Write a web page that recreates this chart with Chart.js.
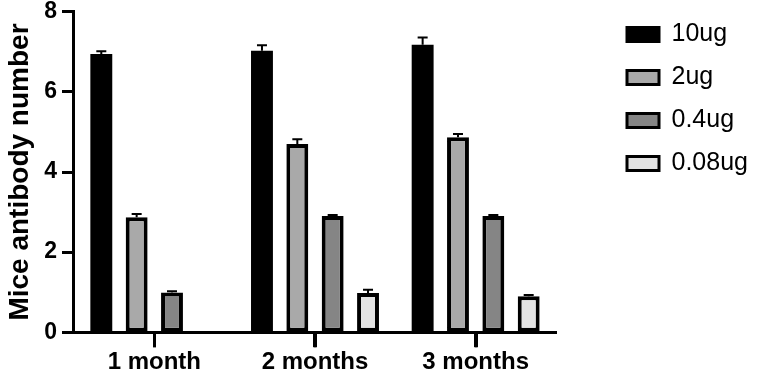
<!DOCTYPE html>
<html>
<head>
<meta charset="utf-8">
<script src="https://cdn.jsdelivr.net/npm/chart.js@4"></script>
<style>
  html, body { margin: 0; padding: 0; background: #fff; }
  #wrap { width: 762px; height: 377px; }
</style>
</head>
<body>
<div id="wrap"><canvas id="miceChart"></canvas></div>
<script>
const months = ['1 month', '2 months', '3 months'];
const doseLabels = ['10ug', '2ug', '0.4ug', '0.08ug'];

// mean values per dose
const ug10 = [6.95, 7.03, 7.18];
const ug2 = [2.87, 4.70, 4.87];
const ug04 = [0.99, 2.90, 2.90];
const ug008 = [0.02, 0.98, 0.90];

// upper error (SEM)
const ug10Err = [0.07, 0.14, 0.18];
const ug2Err = [0.08, 0.12, 0.08];
const ug04Err = [0.03, 0.03, 0.03];
const ug008Err = [0.0, 0.08, 0.03];

const fills = ['#000000', '#a9a9a9', '#858585', '#e3e3e3'];

const FONT = "'Liberation Sans', Arial, sans-serif";

// where the plot should end and the legend boxes begin
const PLOT_RIGHT = 556;
const LEGEND_X = 627;
const LEGEND_TOP = 4;
const X_TICK = 15;

const errorBars = {
  id: 'errorBars',
  afterDatasetsDraw(chart) {
    const ctx = chart.ctx;
    const yScale = chart.scales.y;
    chart.data.datasets.forEach((ds, i) => {
      const meta = chart.getDatasetMeta(i);
      meta.data.forEach((bar, j) => {
        const err = ds.errors[j];
        if (!err) return;
        const top = yScale.getPixelForValue(ds.data[j] + err);
        ctx.save();
        ctx.strokeStyle = '#000';
        ctx.lineWidth = 2;
        ctx.beginPath();
        ctx.moveTo(bar.x, bar.y);
        ctx.lineTo(bar.x, top);
        ctx.moveTo(bar.x - 5, top);
        ctx.lineTo(bar.x + 5, top);
        ctx.stroke();
        ctx.restore();
      });
    });
  },
  // category tick marks under the x axis
  afterDraw(chart) {
    const xScale = chart.scales.x;
    const ctx = chart.ctx;
    ctx.save();
    ctx.strokeStyle = '#000';
    ctx.lineWidth = 3;
    ctx.beginPath();
    xScale.ticks.forEach((t, i) => {
      const x = Math.round(xScale.getPixelForTick(i)) + 0.5;
      ctx.moveTo(x, xScale.top);
      ctx.lineTo(x, xScale.top + X_TICK);
    });
    ctx.stroke();
    ctx.restore();
  }
};

// keep the legend away from the plot like in the original figure
const legendPlace = {
  id: 'legendPlace',
  beforeLayout(chart) {
    const lg = chart.legend;
    if (lg && !lg._fixed) {
      const fit = lg.fit;
      lg.fit = function () {
        fit.call(this);
        this.width = chart.width - PLOT_RIGHT;
      };
      lg._fixed = true;
    }
  },
  afterLayout(chart) {
    const lg = chart.legend;
    const dx = LEGEND_X - (lg.left + lg.options.labels.padding);
    lg.left += dx;
    lg.right += dx;
    lg.top = LEGEND_TOP;
  }
};

const seriesValues = [ug10, ug2, ug04, ug008];
const seriesErrors = [ug10Err, ug2Err, ug04Err, ug008Err];

const dataMice = {
  labels: months,
  datasets: doseLabels.map((lbl, i) => ({
    label: lbl,
    data: seriesValues[i],
    errors: seriesErrors[i],
    backgroundColor: fills[i],
    borderColor: '#000',
    borderWidth: i === 0 ? 0 : 4,
    borderSkipped: false,
    categoryPercentage: 0.88,
    barPercentage: 0.62
  }))
};

const configMice = {
  type: 'bar',
  data: dataMice,
  options: {
    responsive: true,
    maintainAspectRatio: false,
    animation: false,
    layout: { padding: { top: 0, right: 0, bottom: 0, left: 0 } },
    plugins: {
      legend: {
        position: 'right',
        align: 'start',
        labels: {
          boxWidth: 32,
          boxHeight: 14,
          padding: 18,
          color: '#000',
          font: { family: FONT, size: 25 },
          generateLabels(chart) {
            const items = Chart.defaults.plugins.legend.labels.generateLabels(chart);
            items.forEach(it => { it.lineWidth = 3; it.strokeStyle = '#000'; });
            return items;
          }
        }
      },
      tooltip: { enabled: false }
    },
    scales: {
      x: {
        grid: {
          offset: false,
          drawOnChartArea: false,
          drawTicks: true,
          tickLength: X_TICK,
          tickWidth: 3,
          tickColor: '#000'
        },
        border: { color: '#000', width: 3 },
        ticks: {
          color: '#000',
          padding: 6.5,
          font: { family: FONT, size: 24, weight: 'bold', lineHeight: 0.7 }
        }
      },
      y: {
        min: 0,
        max: 8,
        ticks: {
          stepSize: 2,
          color: '#000',
          padding: 5,
          font: { family: FONT, size: 23, weight: 'bold', lineHeight: 0.6 }
        },
        grid: {
          drawOnChartArea: false,
          drawTicks: true,
          tickLength: 12,
          tickWidth: 3,
          tickColor: '#000'
        },
        border: { color: '#000', width: 3 },
        title: {
          display: true,
          text: 'Mice antibody number',
          color: '#000',
          padding: { top: 4, bottom: 3 },
          font: { family: FONT, size: 28, weight: 'bold', lineHeight: 1.15 }
        }
      }
    }
  },
  plugins: [errorBars, legendPlace]
};

let miceGraph = new Chart(document.getElementById('miceChart'), configMice);
</script>
</body>
</html>
